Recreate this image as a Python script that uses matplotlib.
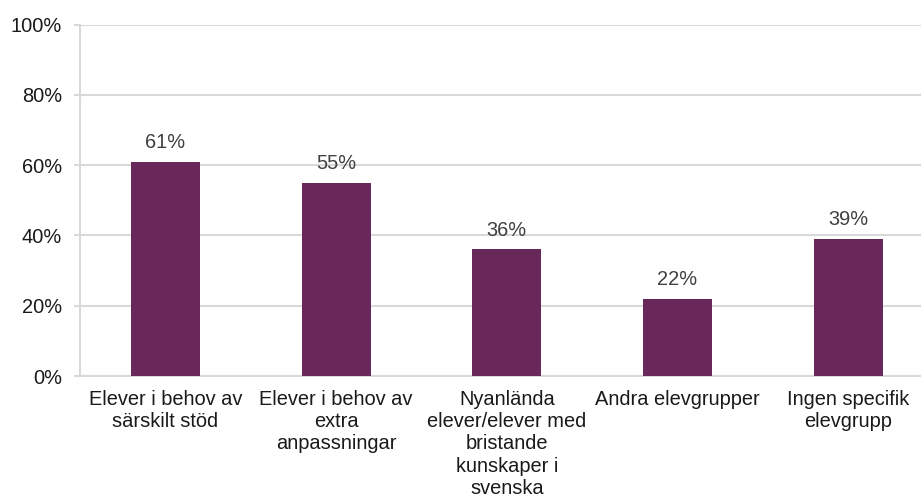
import matplotlib
matplotlib.use("Agg")
import matplotlib.pyplot as plt
from matplotlib.ticker import PercentFormatter


# 分类标签
categories = [
    "Elever i behov av\nsärskilt stöd",
    "Elever i behov av\nextra\nanpassningar",
    "Nyanlända\nelever/elever med\nbristande\nkunskaper i\nsvenska",
    "Andra elevgrupper",
    "Ingen specifik\nelevgrupp",
]

# 百分比数值
values = [61, 55, 36, 22, 39]

y_ticks = [0, 20, 40, 60, 80, 100]

BAR_COLOR = "#69285A"
GRID_COLOR = "#D9D9D9"


def plot_bars():
    """
    柱状图
    """

    plt.rcParams["font.family"] = ["Liberation Sans", "DejaVu Sans"]

    fig = plt.figure(figsize=(9.21, 5.03), dpi=100)
    ax = fig.add_axes([80 / 921, 127 / 503, 853.5 / 921, 351.5 / 503])

    x = list(range(len(categories)))
    bars = ax.bar(x, values, width=0.404, color=BAR_COLOR, zorder=3)

    # 数值标签
    for rect, v in zip(bars, values):
        ax.annotate(
            f"{v}%",
            xy=(rect.get_x() + rect.get_width() / 2, rect.get_height()),
            xytext=(0, 7),
            textcoords="offset points",
            ha="center",
            va="bottom",
            fontsize=14.4,
            color="#404040",
        )

    ax.set_xlim(-0.5, len(categories) - 0.5)
    ax.set_ylim(0, 100)
    ax.set_yticks(y_ticks)
    ax.yaxis.set_major_formatter(PercentFormatter(decimals=0))

    ax.set_xticks(x)
    ax.set_xticklabels(categories, fontsize=14.4, color="#1a1a1a", linespacing=1.22)
    ax.tick_params(axis="x", length=0, pad=10)
    ax.tick_params(axis="y", length=4.3, width=1.5, color=GRID_COLOR,
                   pad=8.6, labelsize=14.4, labelcolor="#1a1a1a")

    ax.grid(axis="y", color=GRID_COLOR, linewidth=1.5, zorder=0)

    for side in ["top", "right"]:
        ax.spines[side].set_visible(False)
    for side in ["left", "bottom"]:
        ax.spines[side].set_color(GRID_COLOR)
        ax.spines[side].set_linewidth(1.5)

    fig.savefig("out.png", dpi=100)


def main():
    plot_bars()


main()
